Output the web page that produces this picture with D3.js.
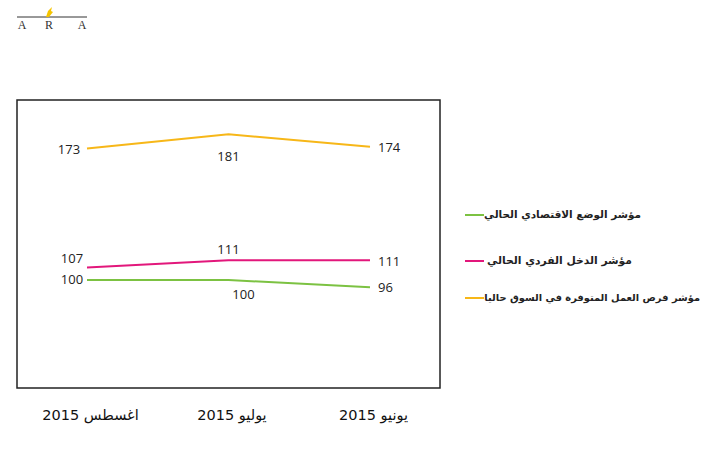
<!DOCTYPE html>
<html><head><meta charset="utf-8">
<script src="https://cdn.jsdelivr.net/npm/d3@7"></script>
<style>body{margin:0;background:#fff}svg{display:block}</style>
</head><body>
<svg id="c" width="702" height="450"></svg>
<script>
const months = ["اغسطس 2015", "يوليو 2015", "يونيو 2015"];
const economic = [100, 100, 96];
const income = [107, 111, 111];
const jobs = [173, 181, 174];
const seriesNames = ["مؤشر الوضع الاقتصادي الحالي", "مؤشر الدخل الفردي الحالي", "مؤشر فرص العمل المتوفرة في السوق حاليا"];
const colors = ["#7cc242", "#e2177b", "#f7b718"];

const svg = d3.select("#c");
const x = d3.scalePoint().domain(months).range([87, 370]);
const y = d3.scaleLinear().domain([40, 200]).range([388, 100]);

// frame
svg.append("rect").attr("x", 17).attr("y", 100).attr("width", 423).attr("height", 288)
  .attr("fill", "none").attr("stroke", "#222").attr("stroke-width", 1.5);

const series = [economic, income, jobs];
const line = d3.line().x((d, i) => x(months[i])).y(d => y(d));
series.forEach((s, k) => {
  svg.append("path").attr("d", line(s)).attr("fill", "none")
    .attr("stroke", colors[k]).attr("stroke-width", 2);
});

// value labels: [dx, dy, anchor] per point
const labelPos = [
  [[-15, 4, "middle"], [15, 19, "middle"], [8, 5, "start"]],
  [[-15, -4, "middle"], [0, -6, "middle"], [8, 6, "start"]],
  [[-18, 5, "middle"], [0, 27, "middle"], [8, 5, "start"]]
];
series.forEach((s, k) => {
  s.forEach((v, i) => {
    const p = labelPos[k][i];
    svg.append("text").attr("x", x(months[i]) + p[0]).attr("y", y(v) + p[1])
      .attr("text-anchor", p[2]).attr("font-family", "Open Sans, sans-serif")
      .attr("font-size", 13).attr("fill", "#222").text(v);
  });
});

// x axis labels
const xAxis = d3.axisBottom(x).tickSize(0).tickPadding(0);
const gx = svg.append("g").attr("transform", "translate(3,410)").call(xAxis);
gx.select(".domain").remove();
gx.selectAll("text").attr("font-family", "DejaVu Sans, sans-serif").attr("font-size", 14.5)
  .attr("fill", "#111").attr("dy", "0.71em");

// legend
const legY = [214, 260, 297];
const legLeft = [484, 487, 484];
const legRight = [641, 632, 700];
seriesNames.forEach((n, k) => {
  svg.append("line").attr("x1", 465).attr("x2", 484)
    .attr("y1", legY[k] + 1).attr("y2", legY[k] + 1)
    .attr("stroke", colors[k]).attr("stroke-width", 2);
  const t = svg.append("text").attr("x", legRight[k]).attr("y", legY[k] + 4)
    .attr("text-anchor", "start").style("direction", "rtl")
    .attr("font-family", "DejaVu Sans, sans-serif").attr("font-weight", "bold")
    .attr("font-size", 11.5).attr("fill", "#222").text(n);
  const w = t.node().getComputedTextLength();
  t.attr("font-size", 11.5 * (legRight[k] - legLeft[k]) / w);
});

// logo
svg.append("line").attr("x1", 17).attr("x2", 87).attr("y1", 17).attr("y2", 17)
  .attr("stroke", "#333").attr("stroke-width", 1);
svg.append("path").attr("d", "M46,17 L48,11 L52,7 L51,11 L53,12 L49,17 Z").attr("fill", "#f5c400");
["A", "R", "A"].forEach((t, i) => {
  svg.append("text").attr("x", [22, 49, 82][i]).attr("y", 29).attr("text-anchor", "middle")
    .attr("font-family", "Liberation Serif, serif").attr("font-size", 12).attr("fill", "#333").text(t);
});
</script>
</body></html>
